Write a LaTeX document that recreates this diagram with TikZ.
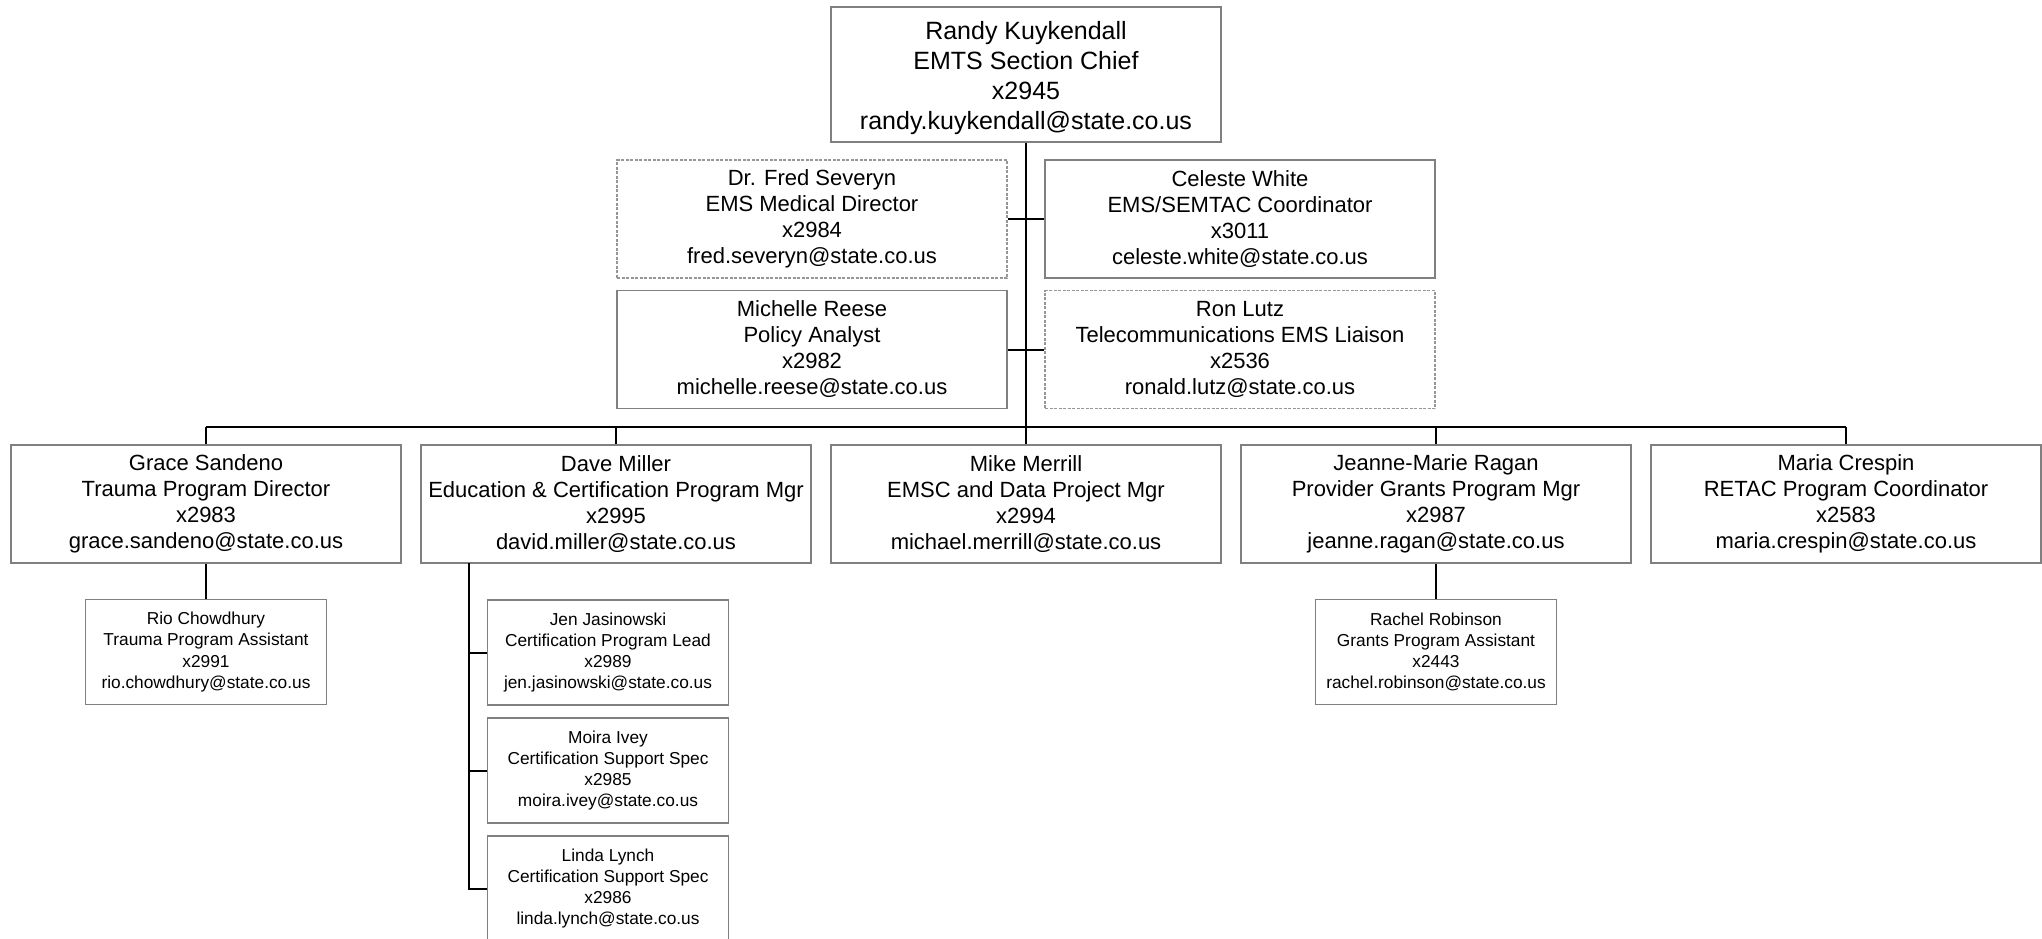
\documentclass[tikz,border=0pt]{standalone}
\usepackage{fontspec}
\setmainfont{Liberation Sans}
\definecolor{boxgray}{RGB}{128,128,128}
\definecolor{dashgray}{RGB}{150,150,150}
\begin{document}
\begin{tikzpicture}[x=1pt,y=-1pt,
  box/.style={draw=boxgray, line width=1.5pt, align=center, inner sep=0pt, text=black, fill=white},
  topbox/.style={box, minimum width=390pt, minimum height=135pt, font=\fontsize{25}{30}\selectfont},
  midbox/.style={box, minimum width=390pt, minimum height=118pt, font=\fontsize{22}{26}\selectfont},
  subbox/.style={box, minimum width=241pt, minimum height=105pt, font=\fontsize{17.3}{21.2}\selectfont},
  dashbox/.style={draw=dashgray, line width=1.3pt, dash pattern=on 3pt off 1.5pt},
  link/.style={draw=black, line width=2pt}]
\useasboundingbox (0,0) rectangle (2042,938);

\coordinate (busL) at (206,427);
\coordinate (busR) at (1846,427);
\coordinate (dline) at (469,563);

% nodes
\node[topbox] (top) at (1026,74.5) {\rule{0pt}{26pt}Randy Kuykendall\\EMTS Section Chief\\x2945\\randy.kuykendall@state.co.us};

\node[midbox,dashbox] (fred) at (812,219) {Dr. Fred Severyn\\EMS Medical Director\\x2984\\fred.severyn@state.co.us};
\node[midbox] (celeste) at (1240,219) {Celeste White\\EMS/SEMTAC Coordinator\\x3011\\celeste.white@state.co.us};
\node[midbox] (michelle) at (812,349.5) {Michelle Reese\\Policy Analyst\\x2982\\michelle.reese@state.co.us};
\node[midbox,dashbox] (ron) at (1240,349.5) {Ron Lutz\\Telecommunications EMS Liaison\\x2536\\ronald.lutz@state.co.us};

\node[midbox] (grace) at (206,504) {Grace Sandeno\\Trauma Program Director\\x2983\\grace.sandeno@state.co.us};
\node[midbox] (dave) at (616,504) {Dave Miller\\Education \& Certification Program Mgr\\x2995\\david.miller@state.co.us};
\node[midbox] (mike) at (1026,504) {Mike Merrill\\EMSC and Data Project Mgr\\x2994\\michael.merrill@state.co.us};
\node[midbox] (jeanne) at (1436,504) {Jeanne-Marie Ragan\\Provider Grants Program Mgr\\x2987\\jeanne.ragan@state.co.us};
\node[midbox] (maria) at (1846,504) {Maria Crespin\\RETAC Program Coordinator\\x2583\\maria.crespin@state.co.us};

\node[subbox] (rio) at (206,652) {Rio Chowdhury\\Trauma Program Assistant\\x2991\\rio.chowdhury@state.co.us};
\node[subbox] (rachel) at (1436,652) {Rachel Robinson\\Grants Program Assistant\\x2443\\rachel.robinson@state.co.us};
\node[subbox] (jen) at (608,652.5) {Jen Jasinowski\\Certification Program Lead\\x2989\\jen.jasinowski@state.co.us};
\node[subbox] (moira) at (608,770.5) {Moira Ivey\\Certification Support Spec\\x2985\\moira.ivey@state.co.us};
\node[subbox] (linda) at (608,888.5) {Linda Lynch\\Certification Support Spec\\x2986\\linda.lynch@state.co.us};

% connectors
\draw[link] (top.south) -- (mike.north);
\draw[link] (fred.east) -- (celeste.west);
\draw[link] (michelle.east) -- (ron.west);
\draw[link] (busL) -- (busR);
\draw[link] (grace.north) -- (grace.north |- busL);
\draw[link] (dave.north) -- (dave.north |- busL);
\draw[link] (jeanne.north) -- (jeanne.north |- busL);
\draw[link] (maria.north) -- (maria.north |- busL);
\draw[link] (grace.south) -- (rio.north);
\draw[link] (jeanne.south) -- (rachel.north);
\draw[link] (dline) -- (dline |- linda.west) -- (linda.west);
\draw[link] (dline |- jen.west) -- (jen.west);
\draw[link] (dline |- moira.west) -- (moira.west);
\end{tikzpicture}
\end{document}
